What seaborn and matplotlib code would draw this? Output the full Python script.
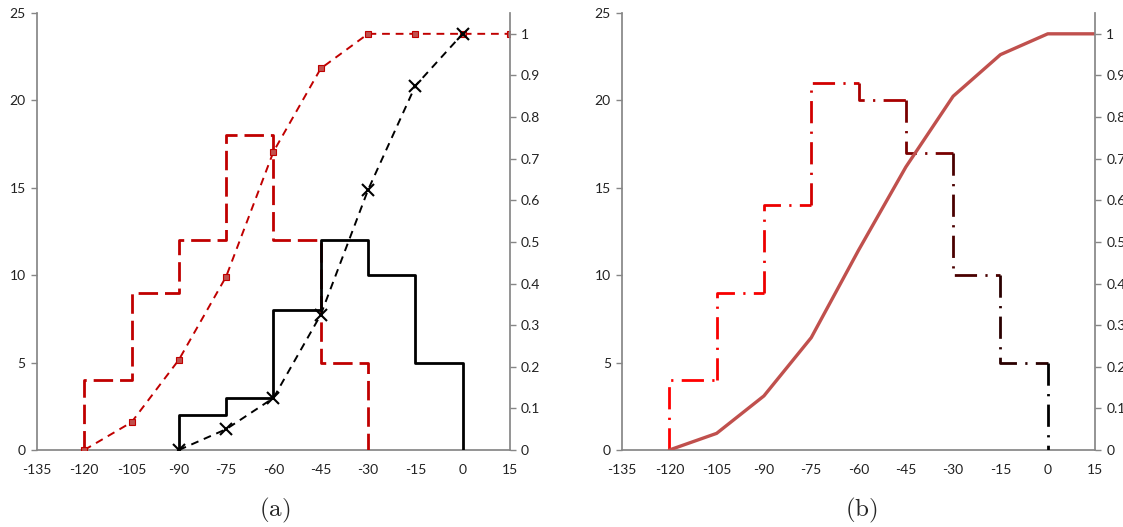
import numpy as np
import pandas as pd
import matplotlib
matplotlib.use("Agg")
import matplotlib.pyplot as plt
import seaborn as sns

sns.set_theme(style="white")
plt.rcParams["font.family"] = ["Lato", "DejaVu Sans"]
plt.rcParams["mathtext.fontset"] = "cm"

# ---- data ----
# panel (a): two histograms over 15-unit bins, with their cumulative shares
edges_a_red = [-120, -105, -90, -75, -60, -45, -30]
counts_a_red = [4, 9, 12, 18, 12, 5]
cum_x_a_red = [-120, -105, -90, -75, -60, -45, -30, -15, 0, 15]
cum_y_a_red = [0.0, 0.0667, 0.2167, 0.4167, 0.7167, 0.9167, 1.0, 1.0, 1.0, 1.0]

edges_a_black = [-90, -75, -60, -45, -30, -15, 0]
counts_a_black = [2, 3, 8, 12, 10, 5]
cum_x_a_black = [-90, -75, -60, -45, -30, -15, 0]
cum_y_a_black = [0.0, 0.05, 0.125, 0.325, 0.625, 0.875, 1.0]

# panel (b): one histogram and its cumulative share
edges_b = [-120, -105, -90, -75, -60, -45, -30, -15, 0]
counts_b = [4, 9, 14, 21, 20, 17, 10, 5]
cum_x_b = [-120, -105, -90, -75, -60, -45, -30, -15, 0, 15]
cum_y_b = [0.0, 0.04, 0.13, 0.27, 0.48, 0.68, 0.85, 0.95, 1.0, 1.0]

x_ticks = [-135, -120, -105, -90, -75, -60, -45, -30, -15, 0, 15]
left_ticks = [0, 5, 10, 15, 20, 25]
right_ticks = [0, 0.1, 0.2, 0.3, 0.4, 0.5, 0.6, 0.7, 0.8, 0.9, 1]
panel_labels = ["(a)", "(b)"]

SPINE = "#868686"
RED = "#C00000"
ROSE = "#C0504D"


def step_outline(edges, counts):
    """Outline of a histogram: rise at the first edge, steps, drop at the last."""
    xs = np.repeat(edges, 2)
    ys = np.concatenate([[0], np.repeat(counts, 2), [0]])
    return pd.DataFrame({"x": xs, "y": ys})


def style_axes(ax, ax2):
    ax.set_xlim(-135, 15)
    ax.set_ylim(0, 25)
    ax2.set_ylim(0, 1.05)
    ax.set_xticks(x_ticks)
    ax.set_xticklabels([str(t) for t in x_ticks])
    ax.set_yticks(left_ticks)
    ax2.set_yticks(right_ticks)
    ax2.set_yticklabels(["0"] + [f"{t:g}" for t in right_ticks[1:]])
    for a in (ax, ax2):
        for s in a.spines.values():
            s.set_visible(False)
        a.set_xlabel("")
        a.set_ylabel("")
        a.tick_params(colors=SPINE, labelcolor="#222222", labelsize=10,
                      length=4, width=1, direction="out")
    ax.spines["left"].set_visible(True)
    ax.spines["bottom"].set_visible(True)
    ax2.spines["right"].set_visible(True)
    for s in ("left", "bottom"):
        ax.spines[s].set_color(SPINE)
    ax2.spines["right"].set_color(SPINE)
    ax.tick_params(axis="x", pad=6)
    ax.tick_params(axis="y", left=True, pad=4)
    ax2.tick_params(axis="y", right=True, pad=4)
    ax2.yaxis.tick_right()


fig = plt.figure(figsize=(11.23, 5.27), dpi=100)
axa = fig.add_axes([0.0329, 0.1461, 0.4212, 0.8292])
axb = fig.add_axes([0.5539, 0.1461, 0.4212, 0.8292])
axa2 = axa.twinx()
axb2 = axb.twinx()

# ---- panel (a) ----
red_hist = step_outline(edges_a_red, counts_a_red)
sns.lineplot(data=red_hist, x="x", y="y", ax=axa, sort=False, estimator=None,
             color=RED, lw=2.0, zorder=3)
axa.lines[-1].set_dashes([7, 2.5])

black_hist = step_outline(edges_a_black, counts_a_black)
sns.lineplot(data=black_hist, x="x", y="y", ax=axa, sort=False, estimator=None,
             color="black", lw=2.0, zorder=3)

sns.lineplot(x=cum_x_a_red, y=cum_y_a_red, ax=axa2, sort=False, estimator=None,
             color=RED, lw=1.4, marker="s", markersize=5,
             markerfacecolor=ROSE, markeredgecolor=RED, markeredgewidth=0.8)
axa2.lines[-1].set_dashes([4, 3])

sns.lineplot(x=cum_x_a_black, y=cum_y_a_black, ax=axa2, sort=False, estimator=None,
             color="black", lw=1.4, marker="x", markersize=8,
             markeredgecolor="black", markeredgewidth=1.5)
axa2.lines[-1].set_dashes([4, 3])

# ---- panel (b) ----
n_seg = len(counts_b) + 1
seg_colors = ["#FF0000", "#F80000", "#EC0000", "#D20000", "#A80000",
              "#780000", "#4A0000", "#2A0000", "#000000"][:n_seg]
outline_b = step_outline(edges_b, counts_b)
for i in range(n_seg):
    seg = outline_b.iloc[2 * i: 2 * i + 3] if i < n_seg - 1 else outline_b.iloc[2 * i: 2 * i + 2]
    sns.lineplot(data=seg, x="x", y="y", ax=axb, sort=False, estimator=None,
                 color=seg_colors[i], lw=2.0, zorder=3)
    axb.lines[-1].set_dashes([8, 3, 0.8, 3])

sns.lineplot(x=cum_x_b, y=cum_y_b, ax=axb2, sort=False, estimator=None,
             color=ROSE, lw=2.4)

style_axes(axa, axa2)
style_axes(axb, axb2)

fig.text(0.245, 0.02, r"$\mathrm{" + panel_labels[0] + "}$", fontsize=18, ha="center")
fig.text(0.767, 0.02, r"$\mathrm{" + panel_labels[1] + "}$", fontsize=18, ha="center")

fig.savefig("out.png", dpi=100)
